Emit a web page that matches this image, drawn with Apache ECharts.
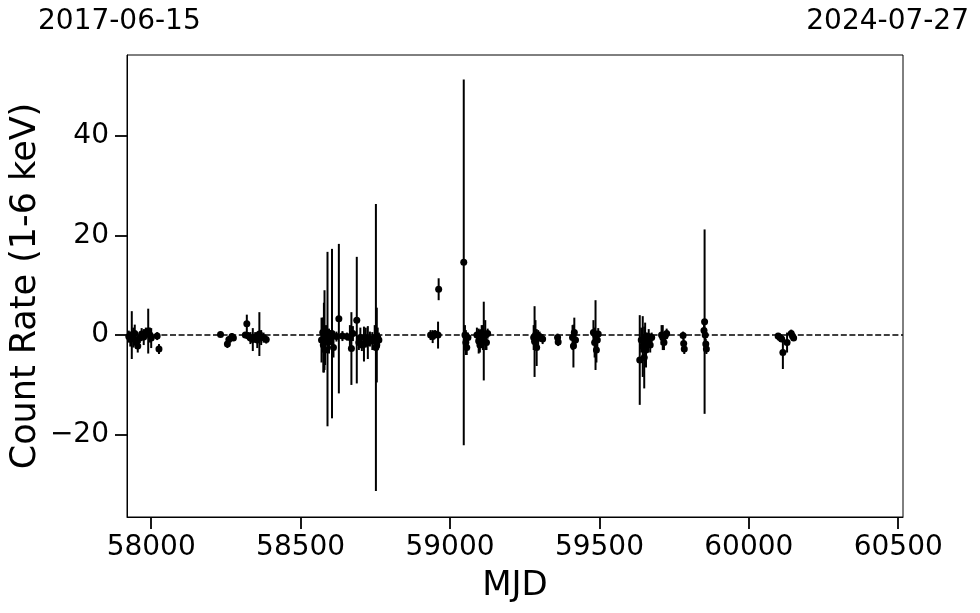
<!DOCTYPE html>
<html>
<head>
<meta charset="utf-8">
<script src="https://cdn.jsdelivr.net/npm/echarts@6/dist/echarts.min.js"></script>
<style>html,body{margin:0;padding:0;background:#fff}#c{width:980px;height:613px}</style>
</head>
<body>
<div id="c"></div>
<script>
const mjd = [
57925,57930,57935,57940,57945,57950,57955,57962,57968,57975,57982,57990,57996,58000,58020,58026,
58232,58255,58260,58270,58275,58315,58320,58325,58332,58340,58348,58355,58362,58368,58376,58385,
58570,58574,58576,58578,58580,58582,58585,58590,58595,58600,58605,58610,58620,58628,58640,58655,58665,58670,58675,58688,58695,58700,58705,58712,58718,58725,58732,58740,58748,58752,58755,58758,58762,
58935,58942,58950,58960,58962,59046,59050,59053,59056,59060,59090,59096,59100,59106,59110,59113,59118,59122,59126,
59280,59283,59286,59290,59295,59300,59310,59360,59362,59410,59413,59416,59420,59480,59484,59487,59490,59493,59496,
59635,59640,59645,59650,59653,59656,59660,59665,59670,59675,59708,59712,59716,59720,59725,59780,59782,59784,59850,59852,59854,59856,59858,
60098,60104,60110,60114,60128,60142,60146,60150
];
const rate = [
-0.3,-0.8,0.0,-0.5,0.3,-1.5,-2.2,-0.6,0.2,-0.4,0.5,0.8,0.0,-0.6,-0.2,-2.8,
0.1,-1.8,-0.9,-0.3,-0.6,0.0,2.3,-0.2,-0.6,-0.9,-0.4,-1.0,0.2,-0.5,-0.5,-0.9,
-1.0,0.5,-2.0,-0.5,1.0,-3.0,0.0,-0.8,-1.2,-0.5,0.3,-2.5,-0.3,3.3,-0.2,-0.3,-0.5,-2.7,0.3,3.0,-1.5,-0.5,-2.0,-1.8,-0.5,-1.5,-0.8,-1.2,-0.5,-2.5,-2.0,-0.5,-1.0,
0.0,-0.3,0.2,0.0,9.2,14.6,0.0,-1.5,-2.5,-0.5,0.0,-1.2,-2.0,0.5,-0.5,-1.2,0.0,-1.5,0.3,
-0.5,-1.3,0.0,-2.5,-0.5,-0.3,-0.8,-0.5,-1.4,-0.5,-2.2,0.5,-1.0,0.5,-1.5,0.0,-3.0,-1.0,0.2,
-5.0,-1.0,-2.3,-4.5,-0.5,-3.0,-1.5,-0.3,-2.0,-0.5,0.0,-0.5,-1.5,-0.2,0.3,-0.1,-1.7,-2.8,0.9,2.7,0.0,-1.8,-2.8,
-0.2,-0.5,-0.8,-3.5,-1.5,0.3,-0.2,-0.6
];
const err = [
1.2,1.5,4.8,2.0,1.8,1.2,1.3,1.0,1.2,1.6,1.0,4.5,1.5,2.0,0.8,1.0,
0.5,0.8,0.6,0.7,0.5,0.6,1.8,0.8,1.2,2.3,1.0,1.6,4.4,1.5,1.0,0.8,
4.5,3.0,5.5,7.0,8.0,3.0,2.0,17.5,2.5,1.5,17.0,2.0,1.0,15.0,1.0,0.8,2.5,7.3,1.5,12.7,1.5,2.0,1.2,3.5,2.0,3.3,1.5,1.8,2.5,28.8,7.5,2.0,1.5,
1.0,1.3,0.8,2.7,2.2,36.7,2.0,2.5,1.5,1.0,1.5,2.5,1.5,1.5,2.5,7.9,3.0,1.5,1.0,
2.5,7.1,3.0,3.7,1.5,1.0,1.0,0.8,0.8,2.5,4.3,3.0,1.5,2.5,3.0,7.0,2.5,1.8,1.2,
9.0,2.5,6.1,6.2,3.0,3.5,2.0,1.5,1.5,1.0,2.0,2.5,1.5,1.0,1.0,0.8,1.0,1.0,1.5,18.5,1.0,1.0,1.0,
0.6,0.8,0.6,3.3,2.0,0.8,0.6,0.5
];
const xTicks = [58000, 58500, 59000, 59500, 60000, 60500];
const yTicks = [-20, 0, 20, 40];
const startLabel = '2017-06-15';
const endLabel = '2024-07-27';

const pts = mjd.map((m, i) => [m, rate[i], err[i]]);
const FONT = 'DejaVu Sans';
const chart = echarts.init(document.getElementById('c'), null, {renderer: 'canvas'});
chart.setOption({
  animation: false,
  backgroundColor: '#fff',
  grid: {left: 127, right: 77, top: 55, bottom: 96, show: true, borderColor: '#000', borderWidth: 1,
    containLabel: false, outerBoundsMode: 'none'},
  xAxis: {
    type: 'value', min: 57919, max: 60516,
    name: 'MJD', nameLocation: 'middle', nameGap: 52, nameMoveOverlap: false,
    nameTextStyle: {fontFamily: FONT, fontSize: 34, color: '#000'},
    splitLine: {show: false},
    axisLine: {show: true, onZero: false, lineStyle: {color: '#000', width: 1}},
    axisTick: {show: true, inside: false, length: 12, lineStyle: {color: '#000', width: 1.8}, customValues: xTicks},
    axisLabel: {fontFamily: FONT, fontSize: 28, color: '#000', margin: 17, customValues: xTicks, formatter: v => String(v)}
  },
  yAxis: {
    type: 'value', min: -36.5, max: 56.2,
    name: 'Count Rate (1-6 keV)', nameLocation: 'middle', nameGap: 84, nameMoveOverlap: false,
    nameTextStyle: {fontFamily: FONT, fontSize: 35, color: '#000'},
    splitLine: {show: false},
    axisLine: {show: true, onZero: false, lineStyle: {color: '#000', width: 1}},
    axisTick: {show: true, inside: false, length: 12, lineStyle: {color: '#000', width: 1.8}, customValues: yTicks},
    axisLabel: {fontFamily: FONT, fontSize: 28, color: '#000', margin: 18, customValues: yTicks,
      formatter: v => String(v).replace('-', '\u2212')}
  },
  graphic: [
    {type: 'text', left: 38, top: 8, style: {text: startLabel, font: '28px "DejaVu Sans"', fill: '#000'}},
    {type: 'text', right: 11, top: 8, style: {text: endLabel, font: '28px "DejaVu Sans"', fill: '#000'}}
  ],
  series: [
    {
      type: 'custom',
      data: pts,
      encode: {x: 0, y: 1},
      z: 2,
      renderItem: function (params, api) {
        const x = api.value(0), y = api.value(1), e = api.value(2);
        const p1 = api.coord([x, y - e]);
        const p2 = api.coord([x, y + e]);
        return {type: 'line', shape: {x1: p1[0], y1: p1[1], x2: p2[0], y2: p2[1]},
          style: {stroke: '#000', lineWidth: 2}};
      }
    },
    {
      type: 'scatter',
      data: pts.map(p => [p[0], p[1]]),
      symbol: 'circle', symbolSize: 7,
      itemStyle: {color: '#000', opacity: 1},
      z: 3,
      markLine: {
        silent: true, symbol: 'none', label: {show: false},
        lineStyle: {color: '#000', type: [6, 2.6], width: 1.5, opacity: 1},
        data: [{yAxis: 0}]
      }
    }
  ]
});
</script>
</body>
</html>
